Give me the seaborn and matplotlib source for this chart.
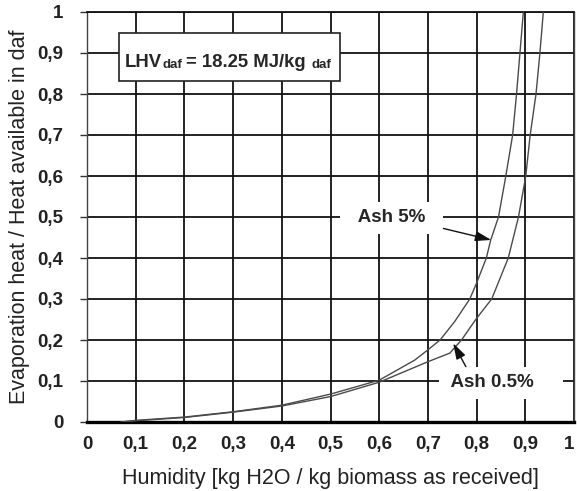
import matplotlib
matplotlib.use("Agg")
import matplotlib.pyplot as plt
import seaborn as sns
import pandas as pd
from matplotlib.patches import Rectangle

# ---- data ----
moisture_ash5 = [0.07, 0.10, 0.20, 0.30, 0.40, 0.50, 0.60, 0.673, 0.70, 0.725, 0.755,
                 0.786, 0.80, 0.82, 0.829, 0.845, 0.860, 0.874, 0.882, 0.889, 0.896]
ratio_ash5 = [0.0, 0.004, 0.012, 0.025, 0.041, 0.068, 0.102, 0.151, 0.176, 0.20, 0.245,
              0.30, 0.339, 0.40, 0.444, 0.50, 0.60, 0.70, 0.80, 0.90, 1.0]

moisture_ash05 = [0.07, 0.10, 0.20, 0.30, 0.40, 0.50, 0.60, 0.70, 0.745, 0.769, 0.80,
                  0.831, 0.865, 0.886, 0.901, 0.910, 0.922, 0.930, 0.937]
ratio_ash05 = [0.0, 0.003, 0.011, 0.024, 0.039, 0.062, 0.097, 0.147, 0.168, 0.20, 0.253,
               0.30, 0.40, 0.50, 0.60, 0.70, 0.80, 0.90, 1.0]

series_names = ["Ash 5%", "Ash 0.5%"]
tick_values = [0, 0.1, 0.2, 0.3, 0.4, 0.5, 0.6, 0.7, 0.8, 0.9, 1.0]
tick_labels = ["0", "0,1", "0,2", "0,3", "0,4", "0,5", "0,6", "0,7", "0,8", "0,9", "1"]

xlabel = "Humidity [kg H2O / kg biomass as received]"
ylabel = "Evaporation heat / Heat available in daf"

df = pd.concat([
    pd.DataFrame({"x": moisture_ash5, "y": ratio_ash5, "series": series_names[0]}),
    pd.DataFrame({"x": moisture_ash05, "y": ratio_ash05, "series": series_names[1]}),
])

sns.set_theme(style="white")
plt.rcParams["font.family"] = ["Liberation Sans", "DejaVu Sans"]

fig = plt.figure(figsize=(5.77, 4.91), dpi=100)
ax = fig.add_axes([87 / 577, 1 - 422 / 491, 487 / 577, 410 / 491])

sns.lineplot(data=df, x="x", y="y", hue="series", estimator=None, sort=False,
             palette=["#4a4a4a", "#4a4a4a"], linewidth=1.0, legend=False, ax=ax, zorder=4)

ax.set_xlim(0, 1)
ax.set_ylim(0, 1)
ax.set_xticks(tick_values)
ax.set_yticks(tick_values)
ax.set_xticklabels(tick_labels)
ax.set_yticklabels(tick_labels)
ax.grid(True, color="#111111", linewidth=1.3, zorder=1)
ax.set_axisbelow(True)

for lab in ax.get_xticklabels() + ax.get_yticklabels():
    lab.set_fontsize(13.5)
    lab.set_fontweight("bold")
    lab.set_color("#222222")
ax.get_xticklabels()[-1].set_horizontalalignment("right")
ax.tick_params(axis="x", length=0, pad=10)
ax.tick_params(axis="y", length=5, width=1.0, color="#333333", pad=12, left=True)

ax.spines["bottom"].set_linewidth(2.4)
ax.spines["bottom"].set_color("black")
ax.spines["top"].set_linewidth(1.3)
ax.spines["top"].set_color("#111111")
for s in ("left", "right"):
    ax.spines[s].set_linewidth(1.0)
    ax.spines[s].set_color("#444444")

ax.set_xlabel(xlabel, fontsize=15.5, color="#222222", labelpad=11)
ax.set_ylabel(ylabel, fontsize=15.5, color="#222222", labelpad=5)

# LHV box
ax.add_patch(Rectangle((0.066, 0.832), 0.453, 0.118, facecolor="white",
                       edgecolor="#222222", linewidth=1.2, zorder=5))
t1 = ax.text(0.078, 0.866, "LHV", fontsize=13.3, fontweight="bold", va="baseline",
             ha="left", zorder=6)
t2 = ax.annotate("daf", xy=(1, 0), xycoords=t1, va="bottom", ha="left",
                 fontsize=9.5, fontweight="bold", zorder=6)
t3 = ax.annotate("= 18.25 MJ/kg", xy=(1, 0), xycoords=t2, xytext=(3, 0),
                 textcoords="offset points", va="bottom", ha="left",
                 fontsize=13.3, fontweight="bold", zorder=6)
t4 = ax.annotate("daf", xy=(1, 0), xycoords=t3, xytext=(4, 0),
                 textcoords="offset points", va="bottom", ha="left",
                 fontsize=9.5, fontweight="bold", zorder=6)

# series labels with arrows
box = dict(boxstyle="square,pad=0.4", facecolor="white", edgecolor="none")
ax.text(0.535, 0.498, "  " + series_names[0] + "  ", fontsize=13.5, fontweight="bold",
        ha="left", va="center", bbox=box, zorder=5)
ax.text(0.738, 0.096, " " + series_names[1] + "    ", fontsize=13.5, fontweight="bold",
        ha="left", va="center", bbox=box, zorder=5)

arrow = dict(arrowstyle="-|>,head_length=0.8,head_width=0.25", color="#111111",
             linewidth=1.0, shrinkA=0, shrinkB=0)
ax.annotate("", xy=(0.830, 0.444), xytext=(0.732, 0.472), arrowprops=arrow, zorder=6)
ax.annotate("", xy=(0.752, 0.192), xytext=(0.778, 0.135), arrowprops=arrow, zorder=6)

fig.savefig("out.png", dpi=100)
